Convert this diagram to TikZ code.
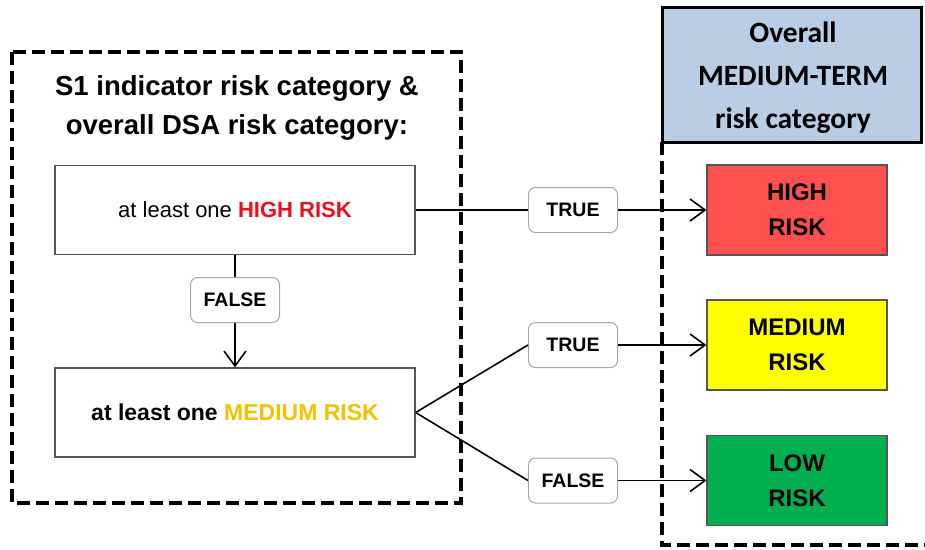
\documentclass[tikz,border=0pt]{standalone}
\usepackage{fontspec}
\setmainfont{Liberation Sans}
\newfontfamily\calib{Carlito}
\usetikzlibrary{arrows.meta}
\definecolor{hired}{HTML}{E8101C}
\definecolor{medgold}{HTML}{F5C000}
\definecolor{boxred}{HTML}{FF5050}
\definecolor{boxyel}{HTML}{FFFF00}
\definecolor{boxgrn}{HTML}{00B050}
\definecolor{hdrblue}{HTML}{B9CDE5}
\definecolor{edgegray}{HTML}{555555}
\tikzset{
  condbox/.style={draw=edgegray, line width=1.3pt, minimum width=360pt, minimum height=89pt, inner sep=0pt, font=\fontsize{22}{26}\selectfont},
  tflabel/.style={draw=gray!70, line width=1pt, rounded corners=7pt, minimum width=89pt, minimum height=45pt, inner sep=0pt, fill=white, font=\bfseries\fontsize{19.5}{22}\selectfont},
  riskbox/.style={draw=edgegray, line width=1.2pt, minimum width=180pt, minimum height=90pt, inner sep=0pt, align=center, font=\bfseries\fontsize{24}{35}\selectfont},
  conn/.style={line width=1.6pt},
  arr/.style={line width=1.6pt, -{Straight Barb[length=15pt,width=22pt,line width=1.6pt]}},
  dashbox/.style={line width=3.5pt, dash pattern=on 13pt off 6pt}
}
\begin{document}
\begin{tikzpicture}[x=1pt,y=-1pt]
\useasboundingbox (0,0) rectangle (925,549);
% left dashed box
\draw[dashbox] (12,52) rectangle (461,503);
\node[align=center, font=\bfseries\fontsize{27.5}{39}\selectfont] (title) at (237,108) {S1 indicator risk category \&\\overall DSA risk category:};
% condition boxes
\node[condbox] (b1) at (235,210) {at least one \textbf{\textcolor{hired}{HIGH RISK}}};
\node[condbox, font=\fontsize{23}{26}\selectfont] (b2) at (235,412.5) {\textbf{at least one \textcolor{medgold}{MEDIUM RISK}}};
% labels
\node[tflabel] (f1) at (235,300) {FALSE};
\node[tflabel] (t1) at (573,210) {TRUE};
\node[tflabel] (t2) at (573,345) {TRUE};
\node[tflabel] (f2) at (573,480.5) {FALSE};
% right side
\draw[dashbox] (662,142) -- (662,545) -- (930,545);
\node[draw=black, line width=3pt, fill=hdrblue, minimum width=259pt, minimum height=135pt, inner sep=0pt] (hdr) at (791.5,74.5) {};
\node[align=center, inner sep=0pt, font=\calib\bfseries\fontsize{29.5}{43}\selectfont] (hdrtext) at (793,78) {Overall\\MEDIUM-TERM\\risk category};
\node[riskbox, fill=boxred] (hi) at (797,210) {HIGH\\RISK};
\node[riskbox, fill=boxyel] (me) at (797,345) {MEDIUM\\RISK};
\node[riskbox, fill=boxgrn] (lo) at (797,480.5) {LOW\\RISK};
% connectors
\draw[conn] (b1.south) -- (f1.north);
\draw[arr] (f1.south) -- (b2.north);
\draw[conn] (b1.east) -- (t1.west);
\draw[arr] (t1.east) -- (hi.west);
\draw[conn] (b2.east) -- (t2.west);
\draw[conn] (b2.east) -- (f2.west);
\draw[arr] (t2.east) -- (me.west);
\draw[arr] (f2.east) -- (lo.west);
\end{tikzpicture}
\end{document}
